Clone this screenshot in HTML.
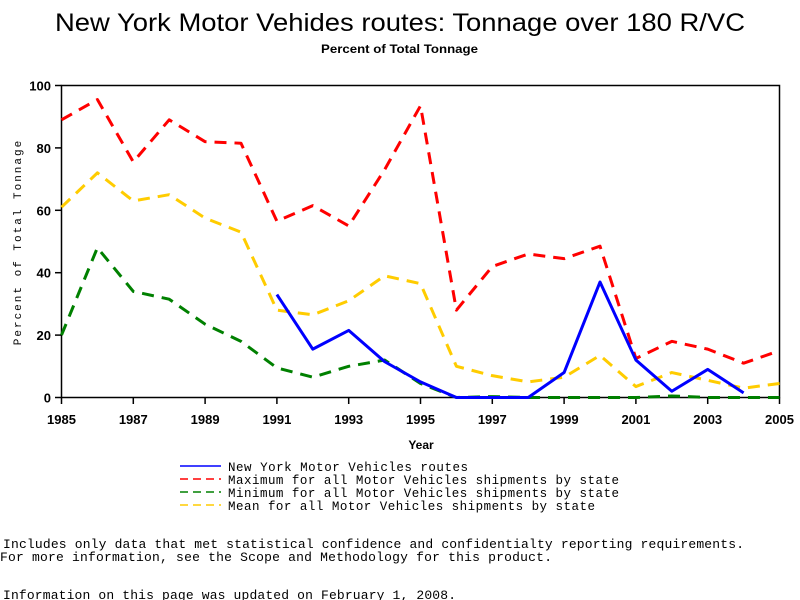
<!DOCTYPE html>
<html><head><meta charset="utf-8"><style>
html,body{margin:0;padding:0;background:#fff;width:800px;height:600px;overflow:hidden}
svg{display:block}
.mono{font-family:"Liberation Mono",monospace}
</style></head><body>
<svg id="chart" width="800" height="600" xmlns="http://www.w3.org/2000/svg">
<text x="55" y="31" textLength="690" lengthAdjust="spacingAndGlyphs" font-family="Liberation Sans, sans-serif" font-size="25">New York Motor Vehides routes: Tonnage over 180 R/VC</text>
<text x="321" y="53" textLength="157" lengthAdjust="spacingAndGlyphs" font-family="Liberation Sans, sans-serif" font-size="12" font-weight="bold">Percent of Total Tonnage</text>
<rect x="61.5" y="85.5" width="718" height="312" fill="none" stroke="#000" stroke-width="1.5"/>
<g id="xticks"></g>
<g id="yticks"></g>
<text x="421" y="449" text-anchor="middle" font-family="Liberation Sans, sans-serif" font-size="12" font-weight="bold">Year</text>
<text transform="translate(21,242) rotate(-90)" text-anchor="middle" class="mono" font-size="11" letter-spacing="2">Percent of Total Tonnage</text>
<g id="series"></g>
<g class="mono" font-size="12.5">
<line x1="180" y1="466" x2="221" y2="466" stroke="#0000ff" stroke-width="1.5"/>
<text x="228" y="471" textLength="240" lengthAdjust="spacing">New York Motor Vehicles routes</text>
<line x1="180" y1="479" x2="221" y2="479" stroke="#ff0000" stroke-width="1.5" stroke-dasharray="8,5"/>
<text x="228" y="484" textLength="391" lengthAdjust="spacing">Maximum for all Motor Vehicles shipments by state</text>
<line x1="180" y1="492" x2="221" y2="492" stroke="#008000" stroke-width="1.5" stroke-dasharray="8,5"/>
<text x="228" y="497" textLength="391" lengthAdjust="spacing">Minimum for all Motor Vehicles shipments by state</text>
<line x1="180" y1="505" x2="221" y2="505" stroke="#ffcc00" stroke-width="1.5" stroke-dasharray="8,5"/>
<text x="228" y="510" textLength="367" lengthAdjust="spacing">Mean for all Motor Vehicles shipments by state</text>
</g>
<g class="mono" font-size="13">
<text x="3" y="548" textLength="741" lengthAdjust="spacing">Includes only data that met statistical confidence and confidentialty reporting requirements.</text>
<text x="0" y="561" textLength="552" lengthAdjust="spacing">For more information, see the Scope and Methodology for this product.</text>
<text x="3" y="599" textLength="453" lengthAdjust="spacing">Information on this page was updated on February 1, 2008.</text>
</g>
</svg>
<script>
const years=[1985,1986,1987,1988,1989,1990,1991,1992,1993,1994,1995,1996,1997,1998,1999,2000,2001,2002,2003,2004,2005];
const maxVals=[89,95.5,75.5,89,82,81.5,56.5,61.5,55,73,93.5,28,42,46,44.5,48.5,12.5,18,15.5,11,15];
const meanVals=[61,72,63,65,57.5,53,28,26.5,31,39,36.5,10,7,5,6.5,13.5,3.5,8,5.5,3,4.5];
const minVals=[20,48,34,31.5,23.5,18,9.5,6.5,10,12,4.5,0,0.3,0,0,0,0,0.5,0,0,0];
const nyYears=[1991,1992,1993,1994,1995,1996,1997,1998,1999,2000,2001,2002,2003,2004];
const nyVals=[33,15.5,21.5,11.5,5,0,0,0,8,37,12,2,9,1.5];
const xTicks=[1985,1987,1989,1991,1993,1995,1997,1999,2001,2003,2005];
const yTicks=[0,20,40,60,80,100];
const NS="http://www.w3.org/2000/svg";
const X=v=>61.5+(v-1985)*(718/20);
const Y=v=>397.5-v*3.12;
function mk(t,a,p){const e=document.createElementNS(NS,t);for(const k in a)e.setAttribute(k,a[k]);p.appendChild(e);return e;}
const xg=document.getElementById('xticks'),yg=document.getElementById('yticks'),sg=document.getElementById('series');
xTicks.forEach(t=>{
 const l=mk('line',{x1:X(t),x2:X(t),y1:397.5,y2:404,stroke:'#000','stroke-width':1.5},xg);
 
 
 const tx=mk('text',{x:X(t),y:424,'text-anchor':'middle','font-family':'Liberation Sans, sans-serif','font-size':13,'font-weight':'bold'},xg);
 tx.textContent=t;
 
 
});
yTicks.forEach(t=>{
 const l=mk('line',{x1:55,x2:61.5,y1:Y(t),y2:Y(t),stroke:'#000','stroke-width':1.5},yg);
 
 
 const tx=mk('text',{x:51,y:Y(t)+5,'text-anchor':'end','font-family':'Liberation Sans, sans-serif','font-size':13,'font-weight':'bold'},yg);
 tx.textContent=t;
 
 
});
function line(xs,vs,color,dash,name){
 const pts=xs.map((x,i)=>X(x)+','+Y(vs[i])).join(' ');
 const a={points:pts,fill:'none',stroke:color,'stroke-width':3,'stroke-linejoin':'round'};
 if(dash)a['stroke-dasharray']='12,8';
 const p=mk('polyline',a,sg);
 
 
}
line(years,maxVals,'#ff0000',true,'series-max');
line(years,meanVals,'#ffcc00',true,'series-mean');
line(years,minVals,'#008000',true,'series-min');
line(nyYears,nyVals,'#0000ff',false,'series-ny');
</script>
</body></html>
